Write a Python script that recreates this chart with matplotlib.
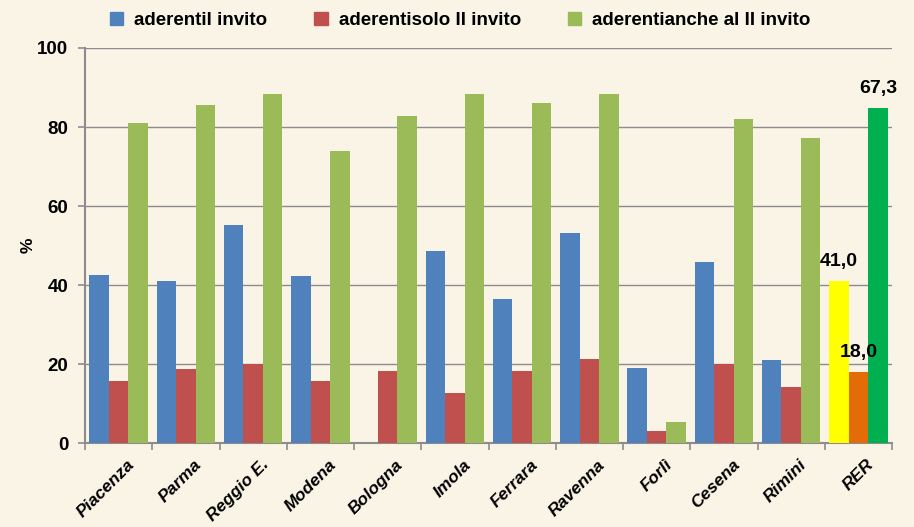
import numpy as np
import matplotlib.pyplot as plt
from matplotlib.ticker import FixedLocator

# dati
categorie = ['Piacenza', 'Parma', 'Reggio E.', 'Modena', 'Bologna', 'Imola',
             'Ferrara', 'Ravenna', 'Forlì', 'Cesena', 'Rimini', 'RER']
invito_1 = [42.5, 41.0, 55.2, 42.3, 0.0, 48.6, 36.5, 53.2, 19.0, 45.8, 21.0, 41.0]
solo_2 = [15.7, 18.7, 20.0, 15.7, 18.2, 12.7, 18.2, 21.3, 3.0, 20.0, 14.2, 18.0]
anche_2 = [81.0, 85.6, 88.4, 74.0, 82.8, 88.4, 86.0, 88.4, 5.3, 82.0, 77.2, 84.8]
etichette_rer = ['41,0', '18,0', '67,3']
nomi_serie = ['aderentil invito', 'aderentisolo II invito', 'aderentianche al II invito']

col_serie = ['#4F81BD', '#C0504D', '#9BBB59']
col_rer = ['#FFFF00', '#E36C09', '#00B050']

plt.rcParams['font.family'] = ['Liberation Sans', 'DejaVu Sans']

fig = plt.figure(figsize=(9.14, 5.27), dpi=100, facecolor='#FAF4E6')
ax = fig.add_axes([0.093, 0.159, 0.883, 0.750])
ax.set_facecolor('none')

x = np.arange(len(categorie))
w = 0.29
serie = [invito_1, solo_2, anche_2]
for i, vals in enumerate(serie):
    colori = [col_serie[i]] * (len(categorie) - 1) + [col_rer[i]]
    barre = ax.bar(x + (i - 1) * w, vals, w, color=colori, label=nomi_serie[i], zorder=3)
    # etichetta solo per RER
    b = barre[-1]
    ax.text(b.get_x() + b.get_width() / 2, b.get_height() + 2.8, etichette_rer[i],
            ha='center', va='bottom', fontsize=14, fontweight='bold', zorder=4)

ax.set_xlim(-0.5, len(categorie) - 0.5)
ax.set_ylim(0, 100)
ax.set_yticks([0, 20, 40, 60, 80, 100])
ax.yaxis.grid(True, color='#8C8C8C', linewidth=1.0, zorder=0)
ax.set_axisbelow(True)

ax.set_xticks(x + 0.12)
ax.set_xticklabels(categorie, rotation=45, ha='right', rotation_mode='anchor',
                   fontsize=12.5, fontweight='bold', style='italic')
ax.tick_params(axis='x', which='major', length=0, pad=10)
ax.xaxis.set_minor_locator(FixedLocator(np.arange(-0.5, len(categorie), 1)))
ax.tick_params(axis='x', which='minor', length=5, color='#8C8C8C', width=1.2)
ax.tick_params(axis='y', length=5, color='#8C8C8C', width=1.2, labelsize=13.5, pad=7)
for lab in ax.get_yticklabels():
    lab.set_fontweight('bold')

for s in ['top', 'right']:
    ax.spines[s].set_visible(False)
for s in ['left', 'bottom']:
    ax.spines[s].set_color('#8C8C8C')
    ax.spines[s].set_linewidth(1.5)

ax.set_ylabel('%', fontsize=12.5, fontweight='bold', labelpad=1)

leg = fig.legend(loc='upper left', bbox_to_anchor=(0.102, 1.01), ncol=3, frameon=False,
                 handlelength=0.7, handleheight=0.7, handletextpad=0.6, columnspacing=2.5,
                 prop={'size': 13.5, 'weight': 'bold'})
for h, c in zip(leg.legend_handles, col_serie):
    h.set_color(c)

fig.savefig('out.png', dpi=100, facecolor=fig.get_facecolor())
